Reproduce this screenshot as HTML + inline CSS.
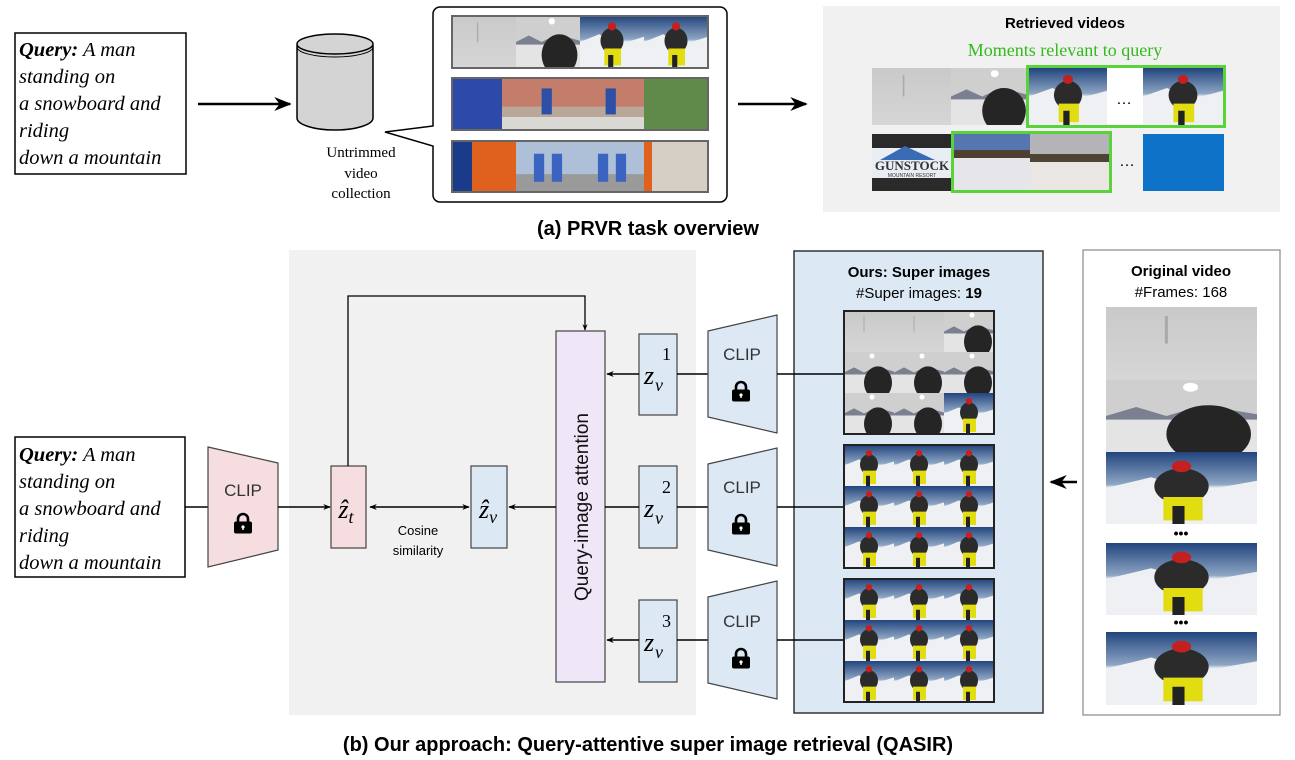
<!DOCTYPE html>
<html><head><meta charset="utf-8"><style>
html,body{margin:0;padding:0;background:#fff}
svg{display:block}
.s{font-family:"Liberation Sans",sans-serif}
.r{font-family:"Liberation Serif",serif}
</style></head><body>
<svg width="1295" height="760" viewBox="0 0 1295 760" xmlns="http://www.w3.org/2000/svg">
<defs>
<linearGradient id="sky" x1="0" y1="0" x2="0" y2="1"><stop offset="0" stop-color="#22457e"/><stop offset="0.45" stop-color="#8ea6c4"/><stop offset="0.5" stop-color="#eef1f4"/><stop offset="1" stop-color="#dfe4ea"/></linearGradient>
<linearGradient id="fog" x1="0" y1="0" x2="0" y2="1"><stop offset="0" stop-color="#c9c9c9"/><stop offset="1" stop-color="#d6d6d6"/></linearGradient>
<symbol id="snow" viewBox="0 0 50 40" preserveAspectRatio="none">
<rect width="50" height="40" fill="url(#sky)"/>
<polygon points="0,20 15,14 30,22 50,16 50,40 0,40" fill="#eef0f3"/>
<ellipse cx="25" cy="19" rx="9" ry="10" fill="#2b2b2b"/>
<circle cx="25" cy="8" r="3.2" fill="#c42020"/>
<rect x="19" y="25" width="13" height="13" fill="#e2dd10"/>
<rect x="22" y="30" width="4" height="10" fill="#222"/>
</symbol>
<symbol id="gray1" viewBox="0 0 50 40" preserveAspectRatio="none">
<rect width="50" height="40" fill="url(#fog)"/>
<line x1="20" y1="5" x2="20" y2="20" stroke="#aaa" stroke-width="1"/>
</symbol>
<symbol id="gray2" viewBox="0 0 50 40" preserveAspectRatio="none">
<rect width="50" height="40" fill="#cfcfcf"/>
<rect y="20" width="50" height="20" fill="#e4e4e4"/>
<polygon points="0,20 10,15 20,20 32,14 50,19 50,22 0,22" fill="#7a8090"/>
<circle cx="28" cy="4" r="2.5" fill="#fff"/>
<ellipse cx="34" cy="30" rx="14" ry="16" fill="#252525"/>
</symbol>
<symbol id="street" viewBox="0 0 50 40" preserveAspectRatio="none">
<rect width="50" height="40" fill="#b9a89a"/>
<rect width="50" height="22" fill="#c37d6a"/>
<rect x="20" y="8" width="8" height="20" fill="#2e4fa8"/>
<rect y="30" width="50" height="10" fill="#d8d8d4"/>
</symbol>
<symbol id="city" viewBox="0 0 50 40" preserveAspectRatio="none">
<rect width="50" height="40" fill="#aebfd8"/>
<rect y="26" width="50" height="14" fill="#9a9a9a"/>
<rect x="14" y="10" width="8" height="22" fill="#3a64c0"/>
<rect x="28" y="10" width="8" height="22" fill="#3a64c0"/>
</symbol>
<marker id="ah" viewBox="0 0 10 10" refX="9" refY="5" markerWidth="7" markerHeight="7" orient="auto-start-reverse"><path d="M0,1 L10,5 L0,9 L3,5 z" fill="#000"/></marker>
<marker id="ahs" viewBox="0 0 10 10" refX="9" refY="5" markerWidth="5" markerHeight="5" orient="auto-start-reverse"><path d="M0,1 L10,5 L0,9 L3,5 z" fill="#000"/></marker>
<symbol id="lock" viewBox="0 0 20 22">
<path d="M5,10 V7 a5,5 0 0 1 10,0 V10" fill="none" stroke="#000" stroke-width="2.6"/>
<rect x="1" y="9.5" width="18" height="12" rx="2" fill="#000"/>
<circle cx="10" cy="15" r="1.6" fill="#fff"/><rect x="9.3" y="15" width="1.4" height="3" fill="#fff"/>
</symbol>
</defs>

<!-- ===== (a) ===== -->
<rect x="15" y="33" width="171" height="141" fill="#fff" stroke="#000" stroke-width="1.5"/>
<g class="r" font-size="20.5" font-style="italic" fill="#000">
<text x="19" y="56"><tspan font-weight="bold">Query:</tspan> A man</text>
<text x="19" y="83">standing on</text>
<text x="19" y="110">a snowboard and</text>
<text x="19" y="137">riding</text>
<text x="19" y="164">down a mountain</text>
</g>
<line x1="198" y1="104" x2="290" y2="104" stroke="#000" stroke-width="2.5" marker-end="url(#ah)"/>

<g>
<path d="M297,45 V118 A38,12 0 0 0 373,118 V45" fill="#d4d4d4" stroke="#000" stroke-width="1.5"/>
<ellipse cx="335" cy="44" rx="38" ry="10" fill="#d4d4d4" stroke="#000" stroke-width="1.5"/>
<path d="M297,47 A38,10 0 0 0 373,47" fill="none" stroke="#000" stroke-width="1"/>
</g>
<g class="r" font-size="15" text-anchor="middle" fill="#000">
<text x="361" y="157">Untrimmed</text>
<text x="361" y="178">video</text>
<text x="361" y="198">collection</text>
</g>

<path d="M440,7 H720 a7,7 0 0 1 7,7 V195 a7,7 0 0 1 -7,7 H440 a7,7 0 0 1 -7,-7 V146 L385,132 L433,126 V14 a7,7 0 0 1 7,-7 Z" fill="#fff" stroke="#000" stroke-width="1.5"/>
<g>
<use href="#gray1" x="452" y="16" width="64" height="52"/>
<use href="#gray2" x="516" y="16" width="64" height="52"/>
<use href="#snow" x="580" y="16" width="64" height="52"/>
<use href="#snow" x="644" y="16" width="64" height="52"/>
<rect x="452" y="16" width="256" height="52" fill="none" stroke="#666" stroke-width="2"/>
<use href="#street" x="452" y="78" width="64" height="52"/>
<use href="#street" x="516" y="78" width="64" height="52"/>
<use href="#street" x="580" y="78" width="64" height="52"/>
<rect x="644" y="78" width="64" height="52" fill="#5f8a4a"/>
<rect x="452" y="78" width="50" height="52" fill="#2d4aa8"/>
<rect x="452" y="78" width="256" height="52" fill="none" stroke="#666" stroke-width="2"/>
<rect x="452" y="141" width="64" height="51" fill="#e0601e"/>
<rect x="452" y="141" width="20" height="51" fill="#1a3b8a"/>
<use href="#city" x="516" y="141" width="64" height="51"/>
<use href="#city" x="580" y="141" width="64" height="51"/>
<rect x="644" y="141" width="64" height="51" fill="#d6cfc6"/>
<rect x="644" y="141" width="8" height="51" fill="#e0601e"/>
<rect x="452" y="141" width="256" height="51" fill="none" stroke="#666" stroke-width="2"/>
</g>
<line x1="738" y1="104" x2="806" y2="104" stroke="#000" stroke-width="2.5" marker-end="url(#ah)"/>

<rect x="823" y="6" width="457" height="206" fill="#f1f1f1"/>
<text x="1065" y="28" class="s" font-size="15" font-weight="bold" text-anchor="middle">Retrieved videos</text>
<text x="1065" y="56" class="r" font-size="18" fill="#33bb1c" text-anchor="middle">Moments relevant to query</text>
<use href="#gray1" x="872" y="68" width="79" height="57"/>
<use href="#gray2" x="951" y="68" width="78" height="57"/>
<use href="#snow" x="1029" y="68" width="78" height="57"/>
<rect x="1107" y="68" width="36" height="57" fill="#fff"/>
<use href="#snow" x="1143" y="68" width="80" height="57"/>
<text x="1124" y="104" font-size="16" text-anchor="middle" class="s">…</text>
<rect x="1027.5" y="66.5" width="197" height="60" fill="none" stroke="#5ad33a" stroke-width="3"/>
<rect x="872" y="134" width="80" height="57" fill="#2a2a2a"/>
<rect x="872" y="148" width="80" height="30" fill="#e8eef4"/>
<polygon points="880,160 905,146 935,160" fill="#3a6cb5"/>
<text x="912" y="170" font-size="13" font-weight="bold" font-family="Liberation Serif,serif" text-anchor="middle" fill="#333">GUNSTOCK</text>
<text x="912" y="177" font-size="5" text-anchor="middle" fill="#333" class="s">MOUNTAIN RESORT</text>
<rect x="953" y="134" width="77" height="57" fill="#e6e6ea"/>
<rect x="953" y="134" width="77" height="22" fill="#5576b0"/>
<rect x="953" y="150" width="77" height="8" fill="#4d4030"/>
<rect x="1030" y="134" width="80" height="57" fill="#e9e6e4"/>
<rect x="1030" y="134" width="80" height="24" fill="#b4b4b8"/>
<rect x="1030" y="154" width="80" height="8" fill="#4e4436"/>
<text x="1127" y="166" font-size="16" text-anchor="middle" class="s">…</text>
<rect x="1143" y="134" width="81" height="57" fill="#0e72c8"/>
<rect x="952.5" y="132.5" width="158" height="59" fill="none" stroke="#5ad33a" stroke-width="3"/>
<text x="648" y="235" class="s" font-size="20" font-weight="bold" text-anchor="middle">(a) PRVR task overview</text>

<!-- ===== (b) ===== -->
<rect x="289" y="250" width="407" height="465" fill="#f1f1f1"/>
<rect x="15" y="437" width="170" height="140" fill="#fff" stroke="#000" stroke-width="1.5"/>
<g class="r" font-size="20.5" font-style="italic" fill="#000">
<text x="19" y="461"><tspan font-weight="bold">Query:</tspan> A man</text>
<text x="19" y="488">standing on</text>
<text x="19" y="515">a snowboard and</text>
<text x="19" y="542">riding</text>
<text x="19" y="569">down a mountain</text>
</g>
<line x1="185" y1="507" x2="208" y2="507" stroke="#000" stroke-width="1.5"/>
<polygon points="208,447 278,463 278,550 208,567" fill="#f6dde0" stroke="#444" stroke-width="1.2"/>
<text x="243" y="496" class="s" font-size="17" text-anchor="middle" fill="#333">CLIP</text>
<use href="#lock" x="233" y="512" width="20" height="22"/>
<line x1="278" y1="507" x2="330" y2="507" stroke="#000" stroke-width="1.5" marker-end="url(#ahs)"/>

<rect x="331" y="466" width="35" height="82" fill="#f6dde0" stroke="#444" stroke-width="1.2"/>
<text x="346" y="518" class="r" font-size="26" font-style="italic" text-anchor="middle">ẑ<tspan font-size="18" dy="5">t</tspan></text>
<rect x="471" y="466" width="36" height="82" fill="#dce9f5" stroke="#444" stroke-width="1.2"/>
<text x="488" y="518" class="r" font-size="26" font-style="italic" text-anchor="middle">ẑ<tspan font-size="18" dy="5">v</tspan></text>
<line x1="370" y1="507" x2="469" y2="507" stroke="#000" stroke-width="1.5" marker-start="url(#ahs)" marker-end="url(#ahs)"/>
<text x="418" y="535" class="s" font-size="13" text-anchor="middle">Cosine</text>
<text x="418" y="555" class="s" font-size="13" text-anchor="middle">similarity</text>
<polyline points="348,466 348,296 585,296 585,330" fill="none" stroke="#000" stroke-width="1.3" marker-end="url(#ahs)"/>

<rect x="556" y="331" width="49" height="351" fill="#efe6f8" stroke="#444" stroke-width="1.2"/>
<text transform="translate(588,507) rotate(-90)" class="s" font-size="19" text-anchor="middle" fill="#111">Query-image  attention</text>
<line x1="556" y1="507" x2="509" y2="507" stroke="#000" stroke-width="1.5" marker-end="url(#ahs)"/>

<g class="r" font-style="italic">
<rect x="639" y="334" width="38" height="81" fill="#dce9f5" stroke="#444" stroke-width="1.2"/>
<text x="644" y="384" font-size="26">z</text><text x="655" y="391" font-size="18">v</text><text x="662" y="360" font-size="18" font-style="normal">1</text>
<rect x="639" y="466" width="38" height="82" fill="#dce9f5" stroke="#444" stroke-width="1.2"/>
<text x="644" y="517" font-size="26">z</text><text x="655" y="524" font-size="18">v</text><text x="662" y="493" font-size="18" font-style="normal">2</text>
<rect x="639" y="600" width="38" height="82" fill="#dce9f5" stroke="#444" stroke-width="1.2"/>
<text x="644" y="651" font-size="26">z</text><text x="655" y="658" font-size="18">v</text><text x="662" y="627" font-size="18" font-style="normal">3</text>
</g>
<line x1="639" y1="374" x2="607" y2="374" stroke="#000" stroke-width="1.5" marker-end="url(#ahs)"/>
<line x1="639" y1="507" x2="605" y2="507" stroke="#000" stroke-width="1.5"/>
<line x1="639" y1="640" x2="607" y2="640" stroke="#000" stroke-width="1.5" marker-end="url(#ahs)"/>
<line x1="677" y1="374" x2="708" y2="374" stroke="#000" stroke-width="1.5"/>
<line x1="677" y1="507" x2="708" y2="507" stroke="#000" stroke-width="1.5"/>
<line x1="677" y1="640" x2="708" y2="640" stroke="#000" stroke-width="1.5"/>

<g fill="#dce9f5" stroke="#444" stroke-width="1.2">
<polygon points="708,331 777,315 777,433 708,417"/>
<polygon points="708,464 777,448 777,566 708,550"/>
<polygon points="708,597 777,581 777,699 708,683"/>
</g>
<g class="s" font-size="17" text-anchor="middle" fill="#333">
<text x="742" y="360">CLIP</text><text x="742" y="493">CLIP</text><text x="742" y="627">CLIP</text>
</g>
<use href="#lock" x="731" y="380" width="20" height="22"/>
<use href="#lock" x="731" y="513" width="20" height="22"/>
<use href="#lock" x="731" y="647" width="20" height="22"/>

<rect x="794" y="251" width="249" height="462" fill="#dce9f5" stroke="#333" stroke-width="1.5"/>
<line x1="777" y1="374" x2="843" y2="374" stroke="#000" stroke-width="1.5"/>
<line x1="777" y1="507" x2="843" y2="507" stroke="#000" stroke-width="1.5"/>
<line x1="777" y1="640" x2="843" y2="640" stroke="#000" stroke-width="1.5"/>
<text x="919" y="277" class="s" font-size="15" font-weight="bold" text-anchor="middle">Ours: Super images</text>
<text x="919" y="298" class="s" font-size="15" text-anchor="middle">#Super images: <tspan font-weight="bold">19</tspan></text>
<g>
<use href="#gray1" x="844" y="311" width="50" height="41"/>
<use href="#gray1" x="894" y="311" width="50" height="41"/>
<use href="#gray2" x="944" y="311" width="50" height="41"/>
<use href="#gray2" x="844" y="352" width="50" height="41"/>
<use href="#gray2" x="894" y="352" width="50" height="41"/>
<use href="#gray2" x="944" y="352" width="50" height="41"/>
<use href="#gray2" x="844" y="393" width="50" height="41"/>
<use href="#gray2" x="894" y="393" width="50" height="41"/>
<use href="#snow" x="944" y="393" width="50" height="41"/>
<rect x="844" y="311" width="150" height="123" fill="none" stroke="#222" stroke-width="2"/>
</g>
<g>
<use href="#snow" x="844" y="445" width="50" height="41"/><use href="#snow" x="894" y="445" width="50" height="41"/><use href="#snow" x="944" y="445" width="50" height="41"/>
<use href="#snow" x="844" y="486" width="50" height="41"/><use href="#snow" x="894" y="486" width="50" height="41"/><use href="#snow" x="944" y="486" width="50" height="41"/>
<use href="#snow" x="844" y="527" width="50" height="41"/><use href="#snow" x="894" y="527" width="50" height="41"/><use href="#snow" x="944" y="527" width="50" height="41"/>
<rect x="844" y="445" width="150" height="123" fill="none" stroke="#222" stroke-width="2"/>
</g>
<g>
<use href="#snow" x="844" y="579" width="50" height="41"/><use href="#snow" x="894" y="579" width="50" height="41"/><use href="#snow" x="944" y="579" width="50" height="41"/>
<use href="#snow" x="844" y="620" width="50" height="41"/><use href="#snow" x="894" y="620" width="50" height="41"/><use href="#snow" x="944" y="620" width="50" height="41"/>
<use href="#snow" x="844" y="661" width="50" height="41"/><use href="#snow" x="894" y="661" width="50" height="41"/><use href="#snow" x="944" y="661" width="50" height="41"/>
<rect x="844" y="579" width="150" height="123" fill="none" stroke="#222" stroke-width="2"/>
</g>

<line x1="1077" y1="482" x2="1051" y2="482" stroke="#000" stroke-width="2.5" marker-end="url(#ah)"/>

<rect x="1083" y="250" width="197" height="465" fill="#fff" stroke="#888" stroke-width="1.2"/>
<text x="1181" y="276" class="s" font-size="15" font-weight="bold" text-anchor="middle">Original video</text>
<text x="1181" y="297" class="s" font-size="15" text-anchor="middle">#Frames: 168</text>
<use href="#gray1" x="1106" y="307" width="151" height="73"/>
<use href="#gray2" x="1106" y="380" width="151" height="72"/>
<use href="#snow" x="1106" y="452" width="151" height="72"/>
<text x="1181" y="538" class="s" font-size="14" font-weight="bold" text-anchor="middle">•••</text>
<use href="#snow" x="1106" y="543" width="151" height="72"/>
<text x="1181" y="627" class="s" font-size="14" font-weight="bold" text-anchor="middle">•••</text>
<use href="#snow" x="1106" y="632" width="151" height="73"/>

<text x="648" y="751" class="s" font-size="20" font-weight="bold" text-anchor="middle">(b) Our approach: Query-attentive super image retrieval (QASIR)</text>
</svg>
</body></html>
